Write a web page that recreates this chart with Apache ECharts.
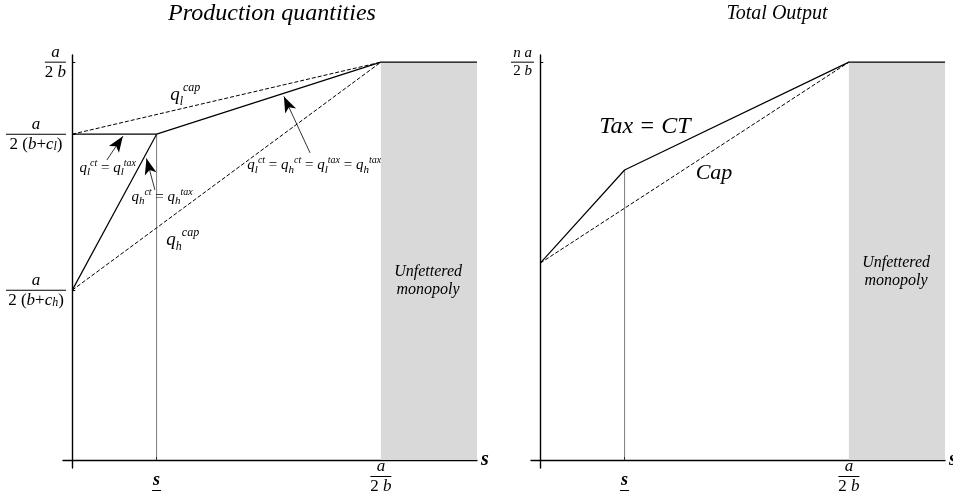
<!DOCTYPE html>
<html>
<head>
<meta charset="utf-8">
<script src="https://cdn.jsdelivr.net/npm/echarts@6/dist/echarts.min.js"></script>
<style>
  html, body { margin: 0; padding: 0; background: #fff; }
  #chart { width: 953px; height: 495px; }
</style>
</head>
<body>
<div id="chart"></div>
<script>
// Capacity axis breakpoints: origin, s, a/2b, right edge of the plot
const xBreaks = [0, 1, 3.66, 4.8];
const S = xBreaks[1], A2B = xBreaks[2], XEND = xBreaks[3];
const capX = [0, A2B];          // cap schedules run from the origin to a/2b
const kinkX = [0, S];           // high-cost tax schedule up to s

// Production quantities (units of a/2b)
const qLowTax = [0.819, 0.819, 1, 1];   // q_l^ct = q_l^tax, then everyone at a/2b
const qHighTax = [0.427, 0.819];        // q_h^ct = q_h^tax below s
const qLowCap = [0.819, 1];
const qHighCap = [0.427, 1];

// Total output (units of na/2b)
const totalTax = [0.495, 0.729, 1, 1]; // Tax = CT
const totalCap = [0.495, 1];           // Cap

// Tick positions
const xTickValues = [S, A2B];
const leftYTicks = [qHighTax[0], qLowTax[0], 1];
const rightYTicks = [1];

// Annotation arrows [tail, head] in data units
const arrowLow = [[0.41, 0.754], [0.60, 0.814]];
const arrowHigh = [[0.98, 0.679], [0.88, 0.758]];
const arrowAll = [[2.82, 0.772], [2.51, 0.914]];

const F = '"Liberation Serif", "DejaVu Serif", serif';
const pairs = (xs, ys) => xs.map((x, i) => [x, ys[i]]);

function bar(w) {
  return { width: w, height: 1, lineHeight: 3, backgroundColor: '#000', fontSize: 1, align: 'center' };
}
const fracRich = {
  it: { fontFamily: F, fontStyle: 'italic', fontSize: 17, lineHeight: 17, align: 'center', color: '#000' },
  rm: { fontFamily: F, fontSize: 17, lineHeight: 17, align: 'center', color: '#000' },
  sub: { fontFamily: F, fontStyle: 'italic', fontSize: 12, lineHeight: 11, verticalAlign: 'bottom', align: 'center', color: '#000' },
  its: { fontFamily: F, fontStyle: 'italic', fontSize: 15, lineHeight: 15, align: 'center', color: '#000' },
  rms: { fontFamily: F, fontSize: 15, lineHeight: 15, align: 'center', color: '#000' },
  sp: { fontSize: 1, lineHeight: 13, align: 'center', color: 'rgba(0,0,0,0)' },
  sl: { fontFamily: F, fontStyle: 'italic', fontWeight: 'bold', fontSize: 18, lineHeight: 18, align: 'center', color: '#000' },
  b20: bar(21), b22: bar(23), b60: bar(60), b9: bar(9)
};

const aOver2b = '{it|a}\n{b20| }\n{rm|2 }{it|b}';
function yLabelLeft(v) {
  if (v === 1) return aOver2b;
  const c = v === qLowTax[0] ? 'l' : 'h';
  return '{it|a}\n{b60| }\n{rm|2 (}{it|b}{rm|+}{it|c}{sub|' + c + '}{rm|)}';
}
function yLabelRight() {
  return '{its|n a}\n{b22| }\n{rms|2 }{its|b}';
}
function xLabel(v) {
  return v === S ? '{sp| }\n{sl|s}\n{b9| }' : aOver2b;
}

// Annotation text styles
const noteRich = {
  q: { fontFamily: F, fontStyle: 'italic', fontSize: 15, lineHeight: 20, color: '#000' },
  s: { fontFamily: F, fontStyle: 'italic', fontSize: 11, lineHeight: 10, verticalAlign: 'bottom', color: '#000' },
  p: { fontFamily: F, fontStyle: 'italic', fontSize: 10, lineHeight: 10, verticalAlign: 'top', color: '#000' },
  o: { fontFamily: F, fontSize: 15, lineHeight: 20, color: '#000' },
  Q: { fontFamily: F, fontStyle: 'italic', fontSize: 19, lineHeight: 26, color: '#000' },
  S: { fontFamily: F, fontStyle: 'italic', fontSize: 12, lineHeight: 12, verticalAlign: 'bottom', color: '#000' },
  P: { fontFamily: F, fontStyle: 'italic', fontSize: 12, lineHeight: 12, verticalAlign: 'top', color: '#000' },
  m: { fontFamily: F, fontStyle: 'italic', fontSize: 16, lineHeight: 18, align: 'center', color: '#000' },
  big: { fontFamily: F, fontStyle: 'italic', fontSize: 24, lineHeight: 28, color: '#000' },
  mid: { fontFamily: F, fontStyle: 'italic', fontSize: 22, lineHeight: 26, color: '#000' }
};
const q = (sub, sup) => '{q|q}{s|' + sub + '}{p|' + sup + '}';
const leftNotes = [
  { coord: [0.42, 0.734], text: q('l', 'ct') + '{o| = }' + q('l', 'tax') },
  { coord: [1.065, 0.661], text: q('h', 'ct') + '{o| = }' + q('h', 'tax') },
  { coord: [2.87, 0.741], text: q('l', 'ct') + '{o| = }' + q('h', 'ct') + '{o| = }' + q('l', 'tax') + '{o| = }' + q('h', 'tax') },
  { coord: [1.34, 0.917], text: '{Q|q}{S|l}{P|cap}' },
  { coord: [1.31, 0.553], text: '{Q|q}{S|h}{P|cap}' },
  { coord: [4.22, 0.45], text: '{m|Unfettered}\n{m|monopoly}' }
];
const rightNotes = [
  { coord: [1.242, 0.837], text: '{big|Tax = CT}' },
  { coord: [2.06, 0.721], text: '{mid|Cap}' },
  { coord: [4.22, 0.472], text: '{m|Unfettered}\n{m|monopoly}' }
];

function notePoints(notes) {
  return {
    silent: true,
    symbol: 'circle',
    symbolSize: 1,
    itemStyle: { color: 'rgba(0,0,0,0)' },
    label: { show: true, position: 'inside', color: '#000', textBorderWidth: 0, rich: noteRich, formatter: p => p.data.text },
    data: notes.map(n => ({ coord: n.coord, text: n.text }))
  };
}
function arrows(list) {
  return {
    silent: true,
    symbol: ['none', 'arrow'],
    lineStyle: { color: '#000', width: 0.8, type: 'solid' },
    itemStyle: { color: '#000' },
    label: { show: false },
    data: list.map(a => [
      { coord: a[0], symbol: 'none' },
      { coord: a[1], symbol: 'arrow', symbolSize: [9, 16], itemStyle: { color: '#000' } }
    ])
  };
}

function xAxisFor(i) {
  return {
    gridIndex: i, type: 'value', min: -0.11, max: XEND,
    axisLine: { onZero: true, lineStyle: { color: '#000', width: 1.3 } },
    axisTick: { show: true, inside: true, length: 3, customValues: xTickValues, lineStyle: { color: '#000' } },
    axisLabel: { customValues: xTickValues, margin: -10, formatter: xLabel, rich: fracRich },
    splitLine: { show: false },
    name: 's', nameLocation: 'end', nameGap: 4,
    nameTextStyle: { fontFamily: F, fontStyle: 'italic', fontWeight: 'bold', fontSize: 20, color: '#000', padding: [14, 0, 0, 0] }
  };
}
function yAxisFor(i, ticks, fmt) {
  return {
    gridIndex: i, type: 'value', min: -0.02, max: 1.018,
    axisLine: { show: true, onZero: true, lineStyle: { color: '#000', width: 1.4 } },
    axisTick: { show: true, inside: true, length: 3, customValues: ticks, lineStyle: { color: '#000' } },
    axisLabel: { customValues: ticks, margin: -3, formatter: fmt, rich: fracRich },
    splitLine: { show: false }
  };
}

const solid = { color: '#000', width: 1.2, type: 'solid' };
const dashed = { color: '#000', width: 1, type: [4, 2] };
const thin = { color: '#444', width: 0.7, type: 'solid' };
function line(i, data, style, extra) {
  return Object.assign({
    type: 'line', xAxisIndex: i, yAxisIndex: i, data, symbol: 'none',
    lineStyle: style, silent: true, animation: false, z: 3
  }, extra || {});
}
const shade = {
  silent: true,
  itemStyle: { color: '#d9d9d9' },
  data: [[{ coord: [A2B, 0] }, { coord: [XEND, 1] }]]
};

const option = {
  animation: false,
  backgroundColor: '#fff',
  grid: [
    { left: 63, width: 414, top: 55, height: 413, outerBoundsMode: 'none', containLabel: false },
    { left: 531, width: 414, top: 55, height: 413, outerBoundsMode: 'none', containLabel: false }
  ],
  xAxis: [xAxisFor(0), xAxisFor(1)],
  yAxis: [yAxisFor(0, leftYTicks, yLabelLeft), yAxisFor(1, rightYTicks, yLabelRight)],
  graphic: [
    { type: 'text', x: 272, y: 14, style: { text: 'Production quantities', font: 'italic 24px ' + F, fill: '#000', align: 'center', verticalAlign: 'middle' } },
    { type: 'text', x: 777, y: 14, style: { text: 'Total Output', font: 'italic 20px ' + F, fill: '#000', align: 'center', verticalAlign: 'middle' } }
  ],
  series: [
    // left panel
    line(0, [[S, 0], [S, qLowTax[0]]], thin, { z: 2, markArea: shade }),
    line(0, pairs(capX, qLowCap), dashed),
    line(0, pairs(capX, qHighCap), dashed),
    line(0, pairs(kinkX, qHighTax), solid),
    line(0, pairs(xBreaks, qLowTax), solid, {
      markLine: arrows([arrowLow, arrowHigh, arrowAll]),
      markPoint: notePoints(leftNotes)
    }),
    // right panel
    line(1, [[S, 0], [S, totalTax[1]]], thin, { z: 2, markArea: shade }),
    line(1, pairs(capX, totalCap), dashed),
    line(1, pairs(xBreaks, totalTax), solid, { markPoint: notePoints(rightNotes) })
  ]
};

const chart = echarts.init(document.getElementById('chart'), null, { renderer: 'canvas' });
chart.setOption(option);
</script>
</body>
</html>
